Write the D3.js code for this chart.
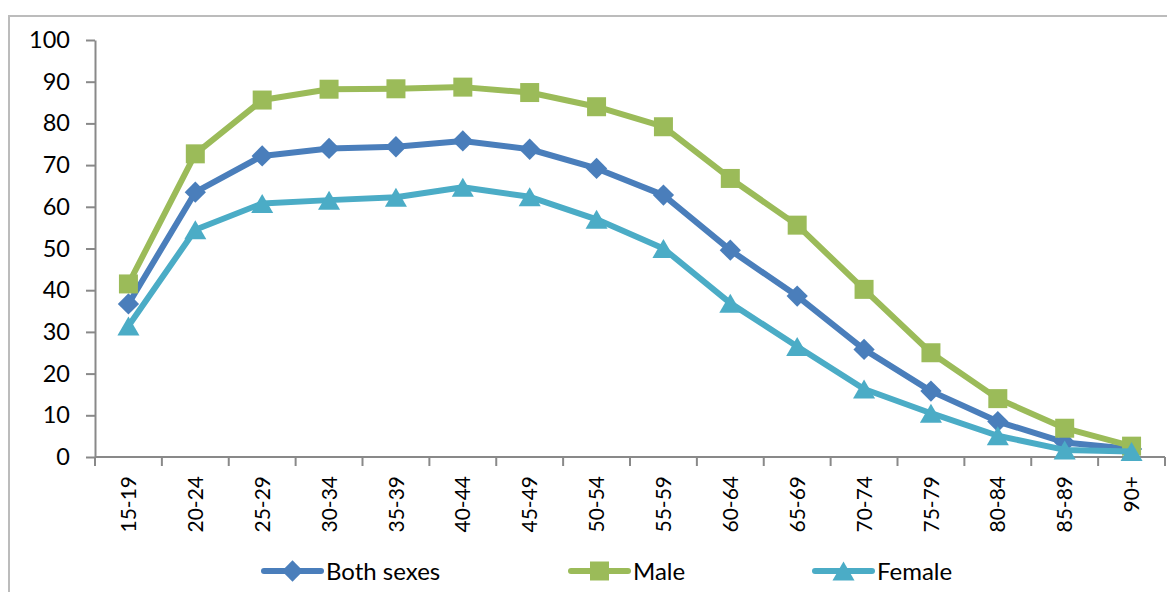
<!DOCTYPE html>
<html>
<head>
<meta charset="utf-8">
<script src="https://cdn.jsdelivr.net/npm/d3@7/dist/d3.min.js"></script>
<style>
  html, body { margin: 0; padding: 0; background: #fff; }
  svg { display: block; }
  text { font-family: Lato, "Open Sans", sans-serif; fill: #000; }
</style>
</head>
<body>
<svg id="chart" width="1167" height="592"></svg>
<script>
const categories = ["15-19","20-24","25-29","30-34","35-39","40-44","45-49","50-54","55-59","60-64","65-69","70-74","75-79","80-84","85-89","90+"];
const bothSexes = [36.7, 63.5, 72.2, 74.0, 74.4, 75.8, 73.8, 69.2, 62.8, 49.6, 38.6, 25.8, 15.8, 8.5, 3.5, 1.9];
const male      = [41.5, 72.7, 85.6, 88.2, 88.3, 88.7, 87.4, 84.0, 79.2, 66.8, 55.6, 40.2, 25.0, 14.0, 6.9, 2.6];
const female    = [31.4, 54.5, 60.8, 61.6, 62.3, 64.7, 62.4, 57.0, 50.0, 36.9, 26.5, 16.3, 10.5, 5.1, 1.7, 1.3];
const yTicks = [0, 10, 20, 30, 40, 50, 60, 70, 80, 90, 100];
const seriesNames = ["Both sexes", "Male", "Female"];

const colors = { "Both sexes": "#4a7ebb", "Male": "#9bbb59", "Female": "#4bacc6" };
const shapes = { "Both sexes": "diamond", "Male": "square", "Female": "triangle" };
const seriesData = { "Both sexes": bothSexes, "Male": male, "Female": female };

const svg = d3.select("#chart");

// outer frame (left and top borders)
svg.append("line").attr("x1", 9).attr("y1", 16).attr("x2", 1167).attr("y2", 16)
  .attr("stroke", "#bcbcbc").attr("stroke-width", 2);
svg.append("line").attr("x1", 9).attr("y1", 15).attr("x2", 9).attr("y2", 592)
  .attr("stroke", "#bcbcbc").attr("stroke-width", 2);

const x = d3.scaleBand().domain(categories).range([95, 1165]);
const y = d3.scaleLinear().domain([0, 100]).range([457, 40]);
const axisColor = "#898989";

// Y axis
const yAxis = svg.append("g").attr("transform", `translate(${x.range()[0]},0)`)
  .call(d3.axisLeft(y).tickValues(yTicks).tickSize(9).tickPadding(16).tickSizeOuter(0));
yAxis.select(".domain").attr("stroke", axisColor).attr("stroke-width", 2);
yAxis.selectAll(".tick line").attr("stroke", axisColor).attr("stroke-width", 2);
yAxis.selectAll(".tick text").attr("font-size", 23.5).attr("font-family", "Lato, sans-serif").attr("fill", "#000");

// X axis: line, boundary ticks, labels
const xg = svg.append("g").attr("transform", `translate(0,${y(0)})`);
xg.append("line").attr("x1", x.range()[0]).attr("x2", x.range()[1])
  .attr("stroke", axisColor).attr("stroke-width", 2);
const bounds = categories.map(c => x(c)).concat([x(categories[categories.length - 1]) + x.bandwidth()]);
xg.selectAll(".bt").data(bounds).enter().append("line")
  .attr("x1", d => d).attr("x2", d => d).attr("y1", 0).attr("y2", 9)
  .attr("stroke", axisColor).attr("stroke-width", 2);
xg.selectAll(".xl").data(categories).enter().append("text")
  .attr("transform", d => `translate(${x(d) + x.bandwidth() / 2},19) rotate(-90)`)
  .attr("text-anchor", "end").attr("dy", "0.36em")
  .attr("font-size", 21).text(d => d);

function markerPath(shape, s) {
  if (shape === "square") { const h = s / 2; return `M${-h},${-h}H${h}V${h}H${-h}Z`; }
  if (shape === "diamond") { const h = s * 0.56; return `M0,${-h}L${h},0L0,${h}L${-h},0Z`; }
  const w = s * 0.58, hh = s * 0.5;
  return `M0,${-hh}L${w},${hh}L${-w},${hh}Z`;
}

const line = d3.line().x((d, i) => x(categories[i]) + x.bandwidth() / 2).y(d => y(d));

seriesNames.forEach(name => {
  const data = seriesData[name];
  const g = svg.append("g");
  g.append("path").datum(data).attr("d", line)
    .attr("fill", "none").attr("stroke", colors[name]).attr("stroke-width", 6)
    .attr("stroke-linejoin", "round").attr("stroke-linecap", "round");
  g.selectAll("path.m").data(data).enter().append("path").attr("class", "m")
    .attr("transform", (d, i) => `translate(${x(categories[i]) + x.bandwidth() / 2},${y(d)})`)
    .attr("d", markerPath(shapes[name], 19))
    .attr("fill", colors[name]);
});

// legend
const legendX = [264, 571, 815];
const legendY = 571;
seriesNames.forEach((name, i) => {
  const g = svg.append("g").attr("transform", `translate(${legendX[i]},${legendY})`);
  g.append("line").attr("x1", 0).attr("x2", 57).attr("y1", 0).attr("y2", 0)
    .attr("stroke", colors[name]).attr("stroke-width", 6).attr("stroke-linecap", "round");
  g.append("path").attr("transform", "translate(28.5,0)").attr("d", markerPath(shapes[name], 19))
    .attr("fill", colors[name]);
  g.append("text").attr("x", 62).attr("y", 0).attr("dy", "0.36em")
    .attr("font-size", 24).text(name);
});
</script>
</body>
</html>
